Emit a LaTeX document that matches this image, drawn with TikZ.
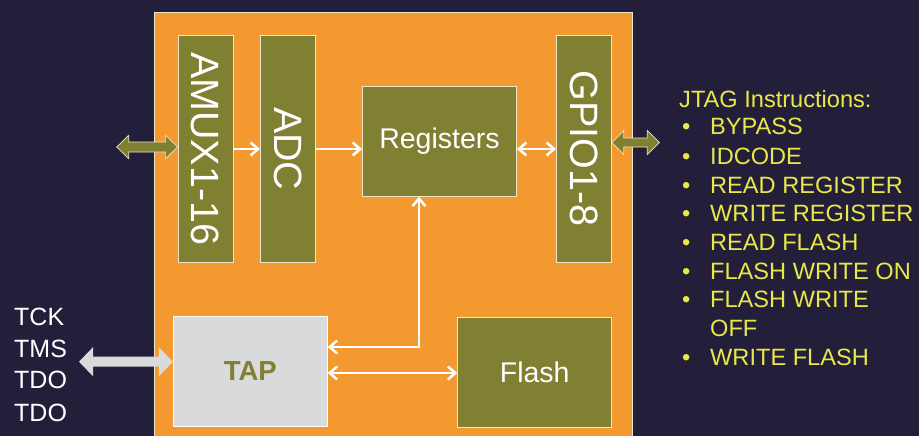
\documentclass[tikz,border=0pt]{standalone}
\usepackage{fontspec}
\setmainfont{Liberation Sans}
\usetikzlibrary{arrows.meta,calc}

\definecolor{bgnavy}{HTML}{231F3A}
\definecolor{chiporange}{HTML}{F4992F}
\definecolor{olive}{HTML}{808033}
\definecolor{tapgrey}{HTML}{D9DADB}
\definecolor{jtagyellow}{HTML}{E9E847}
\definecolor{edgecream}{HTML}{EFE6CC}

% Block (fat) double arrow between a start and an end point
% #1 style, #2 start, #3 end, #4 head half width, #5 shaft half width, #6 head length
\newcommand\blockarrow[6]{%
  \path[#1] let \p1=#2, \p2=#3 in
    (\x1,\y1) -- (\x1+#6,\y1+#4) -- (\x1+#6,\y1+#5) -- (\x2-#6,\y1+#5)
    -- (\x2-#6,\y1+#4) -- (\x2,\y1) -- (\x2-#6,\y1-#4) -- (\x2-#6,\y1-#5)
    -- (\x1+#6,\y1-#5) -- (\x1+#6,\y1-#4) -- cycle;}

\tikzset{
  wbarb/.tip={Straight Barb[length=7.5pt,width=13pt]},
  chip/.style={draw=edgecream, line width=0.8pt, fill=chiporange, inner sep=0pt},
  block/.style={draw=edgecream, line width=0.8pt, fill=olive, inner sep=0pt, text=white},
  vtext/.style={text=white, inner sep=0pt, font=\fontsize{39.5}{40}\selectfont},
  link/.style={white, line width=2.5pt},
  olivearrow/.style={fill=olive, draw=edgecream, line width=0.7pt},
  greyarrow/.style={fill=tapgrey},
  siglabel/.style={text=white, inner sep=0pt, font=\fontsize{25}{30}\selectfont},
  jtag/.style={text=jtagyellow, inner sep=0pt, font=\fontsize{23.6}{28}\selectfont},
}

\begin{document}
\begin{tikzpicture}[x=1pt,y=-1pt]
  % backdrop and page size
  \fill[bgnavy] (0,0) rectangle (919,436);
  \useasboundingbox (0,0) rectangle (919,436);

  % the device
  \node[chip, minimum width=477.7pt, minimum height=428pt] (chip) at (393.15,226) {};

  % analog / digital blocks
  \node[block, minimum width=55pt, minimum height=226.7pt] (amux) at (205.5,148.7) {};
  \node[vtext, rotate=-90] (amuxlbl) at (amux) {AMUX1-16};
  \node[block, minimum width=55pt, minimum height=226.7pt] (adc) at (287.9,148.7) {};
  \node[vtext, rotate=-90] (adclbl) at (adc) {ADC};
  \node[block, minimum width=55pt, minimum height=226.7pt] (gpio) at (583.9,148.7) {};
  \node[vtext, rotate=-90] (gpiolbl) at (gpio) {GPIO1-8};
  \node[block, minimum width=154pt, minimum height=110pt,
        font=\fontsize{28.5}{30}\selectfont] (reg) at (439.5,141.3) {Registers};
  \node[block, minimum width=154pt, minimum height=110pt,
        font=\fontsize{28.5}{30}\selectfont] (flash) at (534.7,372.8) {Flash};
  \node[draw=white, line width=0.8pt, fill=tapgrey, text=olive, inner sep=0pt,
        font=\bfseries\fontsize{27.5}{30}\selectfont,
        minimum width=154pt, minimum height=110pt] (tap) at (250.3,371) {TAP};

  % internal links
  \coordinate (row) at (0,149);
  \coordinate (busx) at (419,0);
  \coordinate (tapin) at (0,347);
  \coordinate (flashrow) at (0,373);
  \draw[link, -wbarb] (amux.east |- row) -- (adc.west |- row);
  \draw[link, -wbarb] (adc.east |- row) -- (reg.west |- row);
  \draw[link, wbarb-wbarb] (reg.east |- row) -- (gpio.west |- row);
  \draw[link, wbarb-wbarb] (reg.south -| busx) |- (tap.east |- tapin);
  \draw[link, wbarb-wbarb] (tap.east |- flashrow) -- (flash.west |- flashrow);

  % external ports
  \coordinate (amuxport) at (116.7,147);
  \coordinate (gpioport) at (659.3,142.5);
  \coordinate (jtagport) at (79,361.7);
  \blockarrow{olivearrow}{(amuxport)}{(amux.west)}{11.7pt}{5pt}{12pt}
  \blockarrow{olivearrow}{(gpio.east |- gpioport)}{(gpioport)}{12pt}{4.5pt}{12pt}
  \blockarrow{greyarrow}{(jtagport)}{(tap.west)}{14.5pt}{5pt}{14pt}

  % JTAG pins
  \foreach \t/\y [count=\i] in {TCK/325.3, TMS/357.7, TDO/388.7, TDO/421}
    \node[siglabel, anchor=base west] (sig\i) at (14,\y) {\t};

  % instruction list
  \node[jtag, anchor=base west] (jtaghead) at (679,107.3) {JTAG Instructions:};
  \foreach \t/\y [count=\i] in {BYPASS/135, IDCODE/164, READ REGISTER/193.3,
      WRITE REGISTER/221.7, READ FLASH/250.7, FLASH WRITE ON/279,
      FLASH WRITE/307.3, WRITE FLASH/365} {
    \node[jtag, anchor=base west] (dot\i) at (682,\y) {•};
    \node[jtag, anchor=base west] (ins\i) at (710,\y) {\t};
  }
  \node[jtag, anchor=base west] (insoff) at (710,336) {OFF};
\end{tikzpicture}
\end{document}
